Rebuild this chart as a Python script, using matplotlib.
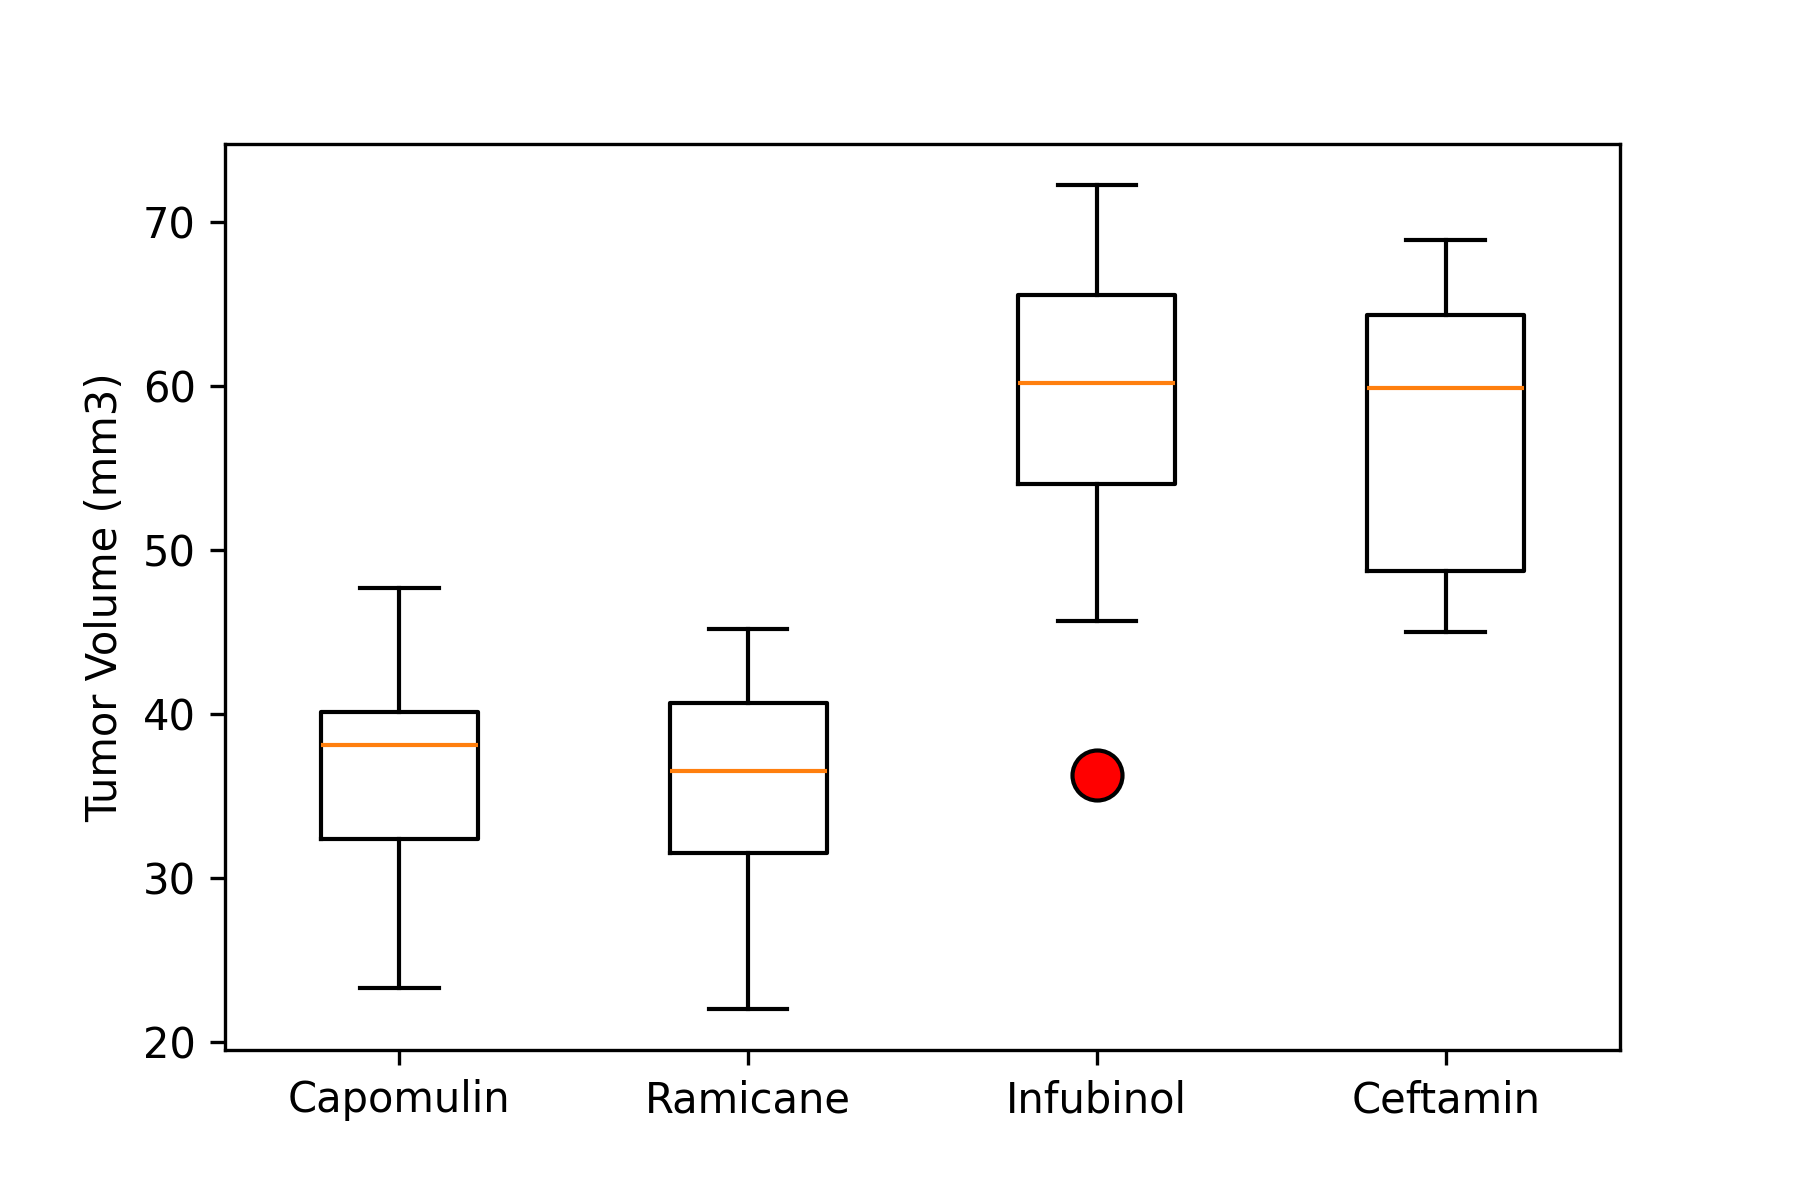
import matplotlib
matplotlib.use("Agg")
import matplotlib.pyplot as plt

treatments = ["Capomulin", "Ramicane", "Infubinol", "Ceftamin"]
whisker_low = [23.34, 22.05, 45.70, 45.00]
q1 = [32.38, 31.56, 54.05, 48.72]
median = [38.13, 36.56, 60.17, 59.85]
q3 = [40.16, 40.66, 65.53, 64.30]
whisker_high = [47.69, 45.22, 72.23, 68.92]
outliers = [[], [], [36.32], []]

stats = []
for i, name in enumerate(treatments):
    stats.append(dict(label=name, whislo=whisker_low[i], q1=q1[i], med=median[i],
                      q3=q3[i], whishi=whisker_high[i], fliers=outliers[i]))

fig = plt.figure(figsize=(6, 4), dpi=300)
ax = fig.add_axes([0.125, 0.125, 0.775, 0.755])
ax.bxp(stats, flierprops=dict(marker='o', markerfacecolor='red', markersize=12,
                              markeredgecolor='black'))
ax.set_ylabel("Tumor Volume (mm3)")
fig.savefig("out.png", dpi=300)
